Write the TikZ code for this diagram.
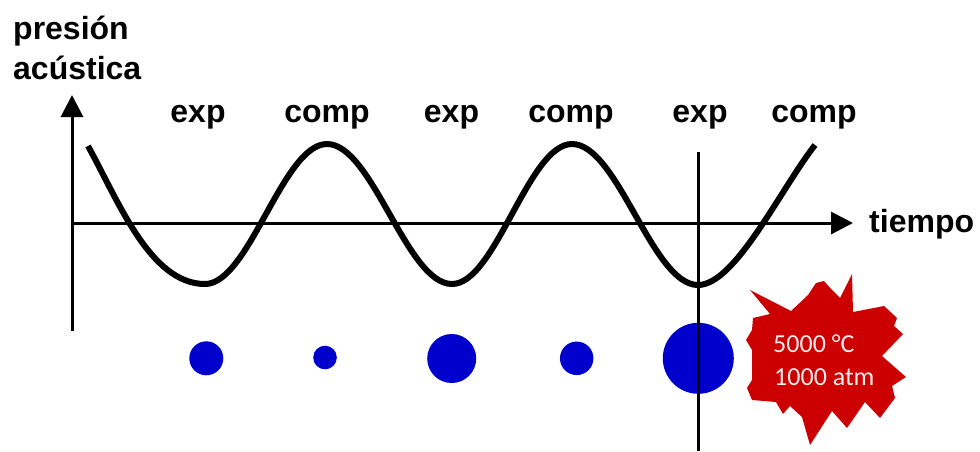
\documentclass[tikz,border=0pt]{standalone}
\usepackage{fontspec}
\setmainfont{Liberation Sans}
\newfontfamily\calib{Carlito}
\usetikzlibrary{arrows.meta}
\definecolor{bblue}{RGB}{0,0,204}
\definecolor{sred}{RGB}{204,0,0}
\definecolor{spink}{RGB}{255,234,234}
\begin{document}
\begin{tikzpicture}[x=1pt,y=-1pt,
  lbl/.style={font=\fontsize{32}{38}\selectfont\bfseries, inner sep=0, anchor=base},
  axisline/.style={line width=3pt, -{Triangle[length=22pt,width=22pt]}},
  bubble/.style={circle, fill=bblue, inner sep=0},
  wave/.style={line width=6pt},
  startxt/.style={font=\calib\fontsize{26}{30}\selectfont, text=spink, inner sep=0, anchor=base west}]
\useasboundingbox (0,0) rectangle (980,451);

% axis titles
\node[lbl, anchor=base west] (ptitle1) at (13,39) {presión};
\node[lbl, anchor=base west] (ptitle2) at (13,79) {acústica};
\node[lbl, anchor=base west] (ttitle) at (869,232) {tiempo};

% axes
\coordinate (ybot) at (72,331);
\coordinate (ytop) at (72,95);
\coordinate (xleft) at (72,223);
\coordinate (xright) at (853,223);
\draw[axisline] (ybot) -- (ytop);
\draw[axisline] (xleft) -- (xright);

% phase labels
\node[lbl] (l1) at (198,122) {exp};
\node[lbl] (l2) at (327,122) {comp};
\node[lbl] (l3) at (451.5,122) {exp};
\node[lbl] (l4) at (571,122) {comp};
\node[lbl] (l5) at (700,122) {exp};
\node[lbl] (l6) at (814,122) {comp};

% wave
\coordinate (s) at (88,146);
\coordinate (t1) at (205,284);
\coordinate (c1) at (327,144);
\coordinate (t2) at (452,284);
\coordinate (c2) at (572,144);
\coordinate (t3) at (698,285);
\coordinate (e) at (815,145);
\draw[wave] (s) .. controls (118,200) and (150,284) .. (t1)
  .. controls (249.3,284) and (282.7,144) .. (c1)
  .. controls (372.4,144) and (406.6,284) .. (t2)
  .. controls (495.6,284) and (528.4,144) .. (c2)
  .. controls (617.8,144) and (652.2,285) .. (t3)
  .. controls (735,285) and (780,190) .. (e);

% bubbles
\node[bubble, minimum size=34pt] (b1) at (206.3,358.3) {};
\node[bubble, minimum size=23.6pt] (b2) at (325,357.5) {};
\node[bubble, minimum size=49pt] (b3) at (451.7,358.5) {};
\node[bubble, minimum size=33.5pt] (b4) at (576.7,358.3) {};
\node[bubble, minimum size=71pt] (b5) at (698.3,358.3) {};

% vertical marker line
\coordinate (vtop) at (698,152);
\coordinate (vbot) at (698,451);
\draw[line width=3pt] (vtop) -- (vbot);

% explosion
\fill[sred] (750,290) -- (791,311) -- (808,295) -- (816,283) -- (824,281) -- (832,290)
  -- (840,298) -- (852,274) -- (853,312) -- (884,306) -- (897,318) -- (894,326)
  -- (903,334) -- (882,356) -- (906,377) -- (892,386) -- (895,398) -- (880,418)
  -- (865,402) -- (847,428) -- (832,411) -- (810,445) -- (802,417) -- (790,406)
  -- (783,414) -- (776,402) -- (752,400) -- (747,388) -- (752,380) -- (752,350)
  -- (746,340) -- (752,330) -- (753,318) -- (770,314) -- cycle;
\node[startxt] (temp) at (773,352) {5000 °C};
\node[startxt] (pres) at (774,385) {1000 atm};
\end{tikzpicture}
\end{document}
